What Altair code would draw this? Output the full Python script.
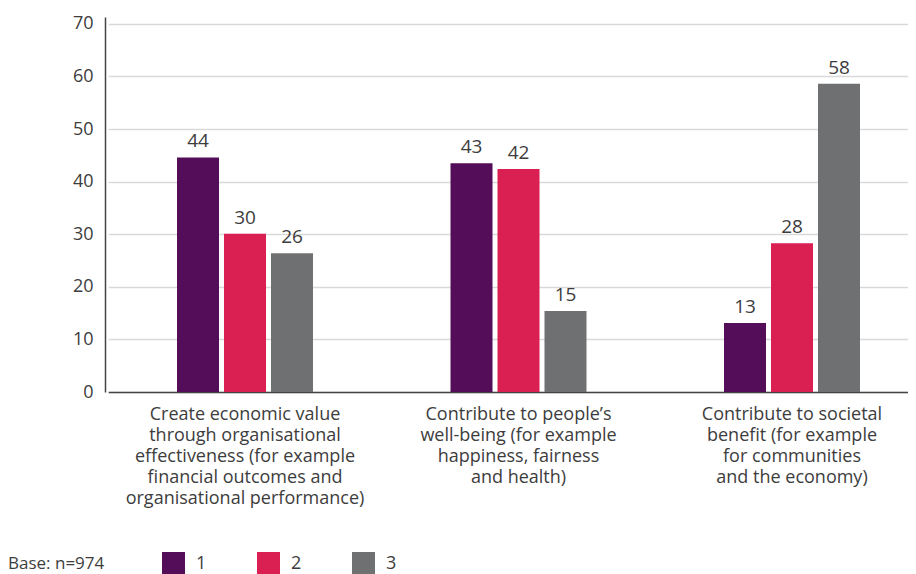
import altair as alt
import pandas as pd

categories = [
    "Create economic value|through organisational|effectiveness (for example|financial outcomes and|organisational performance)",
    "Contribute to people’s|well-being (for example|happiness, fairness|and health)",
    "Contribute to societal|benefit (for example|for communities|and the economy)",
]
series = ["1", "2", "3"]
values_1 = [44.6, 43.5, 13.1]
values_2 = [30.1, 42.4, 28.3]
values_3 = [26.4, 15.4, 58.6]
labels_1 = [44, 43, 13]
labels_2 = [30, 42, 28]
labels_3 = [26, 15, 58]
colors = ["#530d59", "#da1f53", "#6f7072"]
y_ticks = [0, 10, 20, 30, 40, 50, 60, 70]

rows = []
for s, vals, labs in zip(series, [values_1, values_2, values_3], [labels_1, labels_2, labels_3]):
    for c, v, l in zip(categories, vals, labs):
        rows.append({"category": c, "series": s, "value": v, "label": str(l)})
df = pd.DataFrame(rows)

FONT = "Open Sans"
TXT = "#3d3d3d"

base = alt.Chart(df).encode(
    x=alt.X(
        "category:N",
        sort=categories,
        title=None,
        scale=alt.Scale(range=[3.25, 823.75], paddingInner=0.4845, paddingOuter=0.24225),
        axis=alt.Axis(
            labelExpr="split(datum.label, '|')",
            labelAngle=0,
            labelFontSize=18,
            labelLineHeight=21,
            labelColor=TXT,
            labelFont=FONT,
            labelPadding=13,
            labelLimit=0,
            ticks=False,
            domainColor="#444444",
            domainWidth=1.5,
            grid=False,
        ),
    ),
    xOffset=alt.XOffset(
        "series:N",
        sort=series,
        scale=alt.Scale(paddingInner=0.1064, paddingOuter=0.0532),
    ),
)

bars = base.mark_bar().encode(
    y=alt.Y(
        "value:Q",
        title=None,
        scale=alt.Scale(domain=[0, 71.3], nice=False),
        axis=alt.Axis(
            values=y_ticks,
            labelFontSize=18,
            labelColor=TXT,
            labelFont=FONT,
            labelPadding=12,
            ticks=False,
            domainColor="#444444",
            domainWidth=1.5,
            gridColor="#d9d9d9",
            gridWidth=1.5,
        ),
    ),
    color=alt.Color(
        "series:N",
        sort=series,
        scale=alt.Scale(domain=series, range=colors),
        legend=alt.Legend(
            title="Base: n=974",
            orient="none",
            legendX=-97,
            legendY=535,
            direction="horizontal",
            titleOrient="left",
            titleFontSize=17,
            titleFontWeight="normal",
            titleFont=FONT,
            titleColor=TXT,
            titlePadding=57,
            titleBaseline="middle",
            symbolType="square",
            symbolSize=529,
            symbolStrokeWidth=0,
            symbolOpacity=1,
            labelFontSize=18,
            labelFont=FONT,
            labelColor=TXT,
            labelOffset=11,
            columnPadding=50,
        ),
    ),
)

text = base.mark_text(
    baseline="alphabetic", dy=-10, fontSize=19, font=FONT, color=TXT
).encode(
    y=alt.Y("value:Q"),
    text="label:N",
)

chart = (
    alt.layer(bars, text)
    .properties(
        width=803,
        height=375,
        autosize=alt.AutoSizeParams(type="none"),
        padding={"left": 97, "top": 9, "right": 0, "bottom": 182},
    )
    .configure_view(stroke=None)
    .configure_axis(labelFont=FONT)
)

chart.save("out.html", embed_options={"renderer": "svg", "actions": False})
